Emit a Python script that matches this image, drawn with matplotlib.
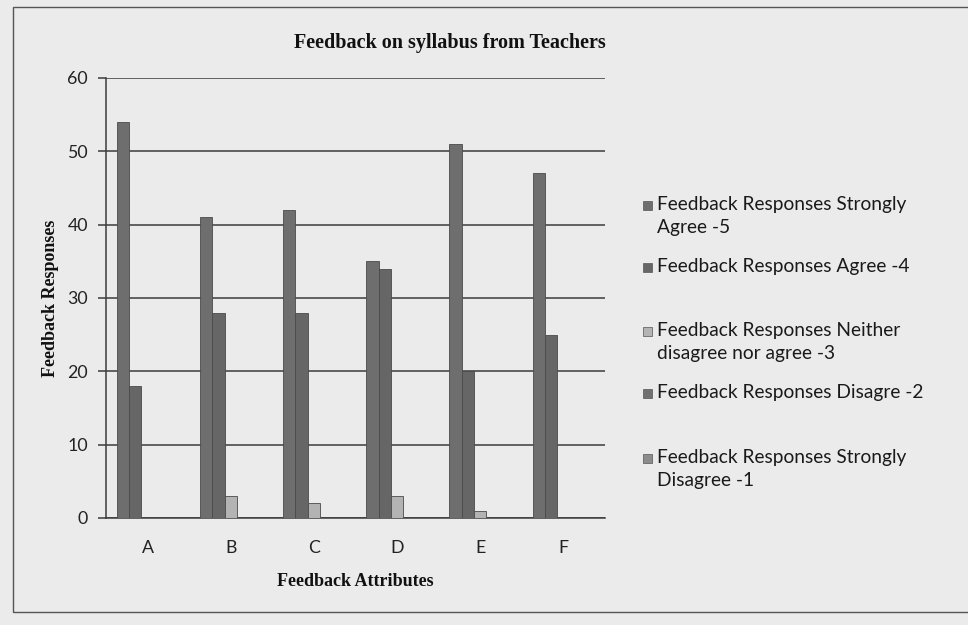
import matplotlib
matplotlib.use("Agg")
import matplotlib.pyplot as plt
import numpy as np
from matplotlib.patches import Rectangle

# values
attributes = ["A", "B", "C", "D", "E", "F"]
strongly_agree = [54, 41, 42, 35, 51, 47]
agree = [18, 28, 28, 34, 20, 25]
neither = [0, 3, 2, 3, 1, 0]
disagree = [0, 0, 0, 0, 0, 0]
strongly_disagree = [0, 0, 0, 0, 0, 0]

series_labels = [
    "Feedback Responses Strongly\nAgree -5",
    "Feedback Responses Agree -4",
    "Feedback Responses Neither\ndisagree nor agree -3",
    "Feedback Responses Disagre -2",
    "Feedback Responses Strongly\nDisagree -1",
]
series_values = [strongly_agree, agree, neither, disagree, strongly_disagree]
series_colors = ["#6e6e6e", "#666666", "#b3b3b3", "#707070", "#8c8c8c"]

paper = "#ebebeb"
sans = ["Lato", "DejaVu Sans"]
serif = ["Liberation Serif", "DejaVu Serif"]

fig = plt.figure(figsize=(9.68, 6.25), dpi=100, facecolor=paper)
ax = fig.add_axes([106 / 968, 1 - 518 / 625, 499 / 968, 440 / 625], facecolor=paper)

x = np.arange(len(attributes))
width = 0.148
for i, (vals, lab, col) in enumerate(zip(series_values, series_labels, series_colors)):
    ax.bar(x + (i - 2) * width, vals, width, label=lab, color=col,
           edgecolor="#4a4a4a", linewidth=0.6, zorder=3)

ax.set_xlim(-0.5, len(attributes) - 0.5)
ax.set_ylim(0, 60)
ax.set_yticks(range(0, 61, 10))
ax.set_xticks(x)
ax.set_xticklabels(attributes)
ax.grid(axis="y", color="#3c3c3c", linewidth=1.1, zorder=0)
ax.set_axisbelow(True)

for side in ("top", "right"):
    ax.spines[side].set_visible(False)
for side in ("left", "bottom"):
    ax.spines[side].set_color("#3c3c3c")
    ax.spines[side].set_linewidth(1.1)

ax.tick_params(axis="y", length=6, width=1.1, color="#3c3c3c", pad=7)
ax.tick_params(axis="x", length=0, pad=16)
for t in ax.get_xticklabels() + ax.get_yticklabels():
    t.set_family(sans)
    t.set_fontsize(12.8)
    t.set_color("#222222")

ax.set_xlabel("Feedback Attributes", family=serif, fontweight="bold",
              fontsize=13, color="#111111", labelpad=12)
ax.set_ylabel("Feedback Responses", family=serif, fontweight="bold",
              fontsize=13, color="#111111", labelpad=6)
fig.text(450 / 968, 1 - 43 / 625, "Feedback on syllabus from Teachers",
         family=serif, fontweight="bold", fontsize=14.5, color="#111111",
         ha="center", va="center")

# Excel-style legend: swatch lines up with the first text line
legend_rows = [207, 269, 333, 395, 460]
for row, lab, col in zip(legend_rows, series_labels, series_colors):
    fig.patches.append(Rectangle((643 / 968, 1 - (row + 3) / 625), 9 / 968, 9 / 625,
                                 transform=fig.transFigure, facecolor=col,
                                 edgecolor="#555555", linewidth=0.5))
    fig.text(657 / 968, 1 - (row - 11) / 625, lab, family=sans, fontsize=13.8,
             color="#1a1a1a", ha="left", va="top", linespacing=1.42)

# outer chart border
fig.patches.append(Rectangle((13 / 968, 1 - 612 / 625), 1.0, 605 / 625,
                             transform=fig.transFigure, fill=False,
                             edgecolor="#555555", linewidth=1.0))

fig.savefig("out.png", dpi=100, facecolor=paper)
